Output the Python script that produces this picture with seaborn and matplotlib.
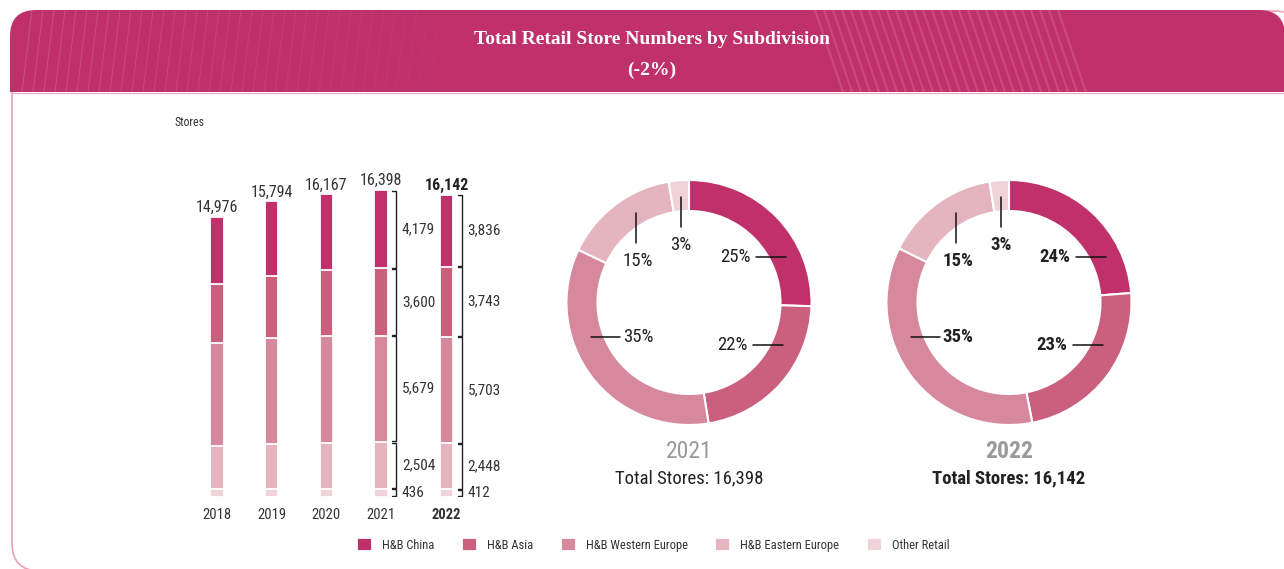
import numpy as np
import pandas as pd
import matplotlib
matplotlib.use("Agg")
import matplotlib.pyplot as plt
from matplotlib import font_manager
from matplotlib.patches import FancyBboxPatch, Rectangle
import seaborn as sns

years = ["2018", "2019", "2020", "2021", "2022"]
subdivisions = ["H&B China", "H&B Asia", "H&B Western Europe", "H&B Eastern Europe", "Other Retail"]
china = [3600, 3965, 4059, 4179, 3836]
asia = [3140, 3345, 3509, 3600, 3743]
western = [5525, 5635, 5715, 5679, 5703]
eastern = [2300, 2401, 2436, 2504, 2448]
other = [411, 448, 448, 436, 412]
totals = [14976, 15794, 16167, 16398, 16142]
pct_2021 = [25, 22, 35, 15, 3]
pct_2022 = [24, 23, 35, 15, 3]
colors = ["#C0306A", "#CB607E", "#D6899D", "#E4B4BF", "#F0D2D9"]

W, H = 1284, 569

available = {f.name for f in font_manager.fontManager.ttflist}
narrow = next((f for f in ["Liberation Sans Narrow", "DejaVu Sans Condensed", "Roboto Condensed",
                           "Open Sans Condensed", "Open Sans"] if f in available), "DejaVu Sans")
serif = "Liberation Serif" if "Liberation Serif" in available else "DejaVu Serif"

sns.set_style("white")
plt.rcParams["font.family"] = [narrow, "DejaVu Sans"]
text_col = "#333333"

fig = plt.figure(figsize=(W / 100, H / 100), dpi=100)

# background card + header band (pixel coordinates)
bg = fig.add_axes([0, 0, 1, 1])
bg.set_xlim(0, W)
bg.set_ylim(H, 0)
bg.axis("off")
card = FancyBboxPatch((12, 11), 1290, 560, boxstyle="round,pad=0,rounding_size=28",
                      facecolor="white", edgecolor="#E8A3B7", linewidth=1.2)
bg.add_patch(card)
header = FancyBboxPatch((10, 10), 1275, 160, boxstyle="round,pad=0,rounding_size=26",
                        facecolor="#C0306A", edgecolor="none")
bg.add_patch(header)
clip = Rectangle((0, 0), W, 92, transform=bg.transData)
header.set_clip_path(clip)
for k, x0 in enumerate(np.arange(22, 470, 11)):
    ln, = bg.plot([x0, x0 + 10], [92, 10], color="white", lw=0.7, alpha=0.16 * (1 - k / 45))
    ln.set_clip_path(clip)
for k, x0 in enumerate(np.arange(815, 1060, 9)):
    ln, = bg.plot([x0, x0 + 28], [10, 92], color="white", lw=1.6, alpha=0.13)
    ln.set_clip_path(clip)
bg.plot([12, W], [92.5, 92.5], color="#EBB3C3", lw=1)

fig.text(652 / W, 1 - 40 / H, "Total Retail Store Numbers by Subdivision", ha="center", va="center",
         color="white", fontsize=14, fontweight="bold", family=serif)
fig.text(652 / W, 1 - 70 / H, "(-2%)", ha="center", va="center",
         color="white", fontsize=14, fontweight="bold", family=serif)
fig.text(175 / W, 1 - 123 / H, "Stores", ha="left", va="center", fontsize=8.5, color=text_col)

# stacked bars: draw cumulative tops, largest first
stack = np.array([china, asia, western, eastern, other])
cum = stack[::-1].cumsum(axis=0)[::-1]
idx = np.arange(len(years))
xpos = idx + np.where(idx == len(years) - 1, 0.2, 0.0)
rows = []
for i, sub in enumerate(subdivisions):
    for j in range(len(years)):
        rows.append({"pos": xpos[j], "subdivision": sub, "top": cum[i, j]})
df = pd.DataFrame(rows)

unit = 54.67
ax = fig.add_axes([(217 - 0.8 * unit) / W, 72 / H, 5.7 * unit / W, 337 / H])
sns.barplot(data=df, x="pos", y="top", hue="subdivision", hue_order=subdivisions, palette=colors,
            dodge=False, native_scale=True, width=0.24, edgecolor="white", linewidth=1.3,
            saturation=1, errorbar=None, ax=ax)
handles, labels = ax.get_legend_handles_labels()
ax.get_legend().remove()
ax.set_xlim(-0.8, 4.9)
ax.set_ylim(0, 18000)
ax.patch.set_alpha(0)
sns.despine(ax=ax, left=True, bottom=True)
ax.set_yticks([])
ax.set_xlabel("")
ax.set_ylabel("")
ax.set_xticks(xpos, years)
ax.tick_params(axis="x", length=0, labelsize=10.5, labelcolor=text_col, pad=8)
ax.get_xticklabels()[-1].set_fontweight("bold")

for j in range(len(years)):
    bold = j == len(years) - 1
    ax.text(xpos[j], totals[j] + 100, f"{totals[j]:,}", ha="center", va="bottom", fontsize=11.5,
            color="#222" if bold else text_col, fontweight="bold" if bold else "normal")

# brackets for the last two years
for j in (3, 4):
    xb = xpos[j] + 0.28
    base = 0
    for v in stack[::-1, j]:
        y0, y1 = base + 35, base + v - 35
        ax.plot([xb - 0.07, xb, xb, xb - 0.07], [y0, y0, y1, y1], color="#222", lw=1.0)
        ax.text(xb + 0.1, (y0 + y1) / 2, f"{v:,}", ha="left", va="center", fontsize=11, color=text_col)
        base += v

fig.legend(handles, labels, loc="center", bbox_to_anchor=(653 / W, 1 - 545 / H), ncol=5,
           frameon=False, fontsize=9, handlelength=1.2, handleheight=1.2, handletextpad=0.8,
           columnspacing=2.2, labelcolor=text_col)

# donuts
label_layout = [
    (46, 45.5, 67, 45.5, 97, 45.5),
    (43, -42.5, 64, -42.5, 94, -42.5),
    (-51, -34, -98, -34, -69, -34),
    (-51, 41.5, -52.7, 59.8, -52.7, 89.8),
    (-8, 57.5, -7.7, 75.5, -7.7, 105.5),
]


def draw_donut(values, pcts, year, total, cx, bold):
    cy = 302.5
    dax = fig.add_axes([(cx - 150) / W, (H - cy - 150) / H, 300 / W, 300 / H])
    dax.pie(values, colors=colors, radius=122.5, startangle=90, counterclock=False,
            wedgeprops=dict(width=31, edgecolor="white", linewidth=1.5))
    dax.set_xlim(-150, 150)
    dax.set_ylim(-150, 150)
    dax.set_aspect("equal")
    dax.axis("off")
    weight = "bold" if bold else "normal"
    for pct, (tx, ty, lx0, ly0, lx1, ly1) in zip(pcts, label_layout):
        dax.plot([lx0, lx1], [ly0, ly1], color="#111", lw=1.1)
        dax.text(tx, ty, f"{pct}%", ha="center", va="center", fontsize=13.5, fontweight=weight, color="#222")
    dax.text(0, -149, year, ha="center", va="center", fontsize=17, color="#9A9A9A", fontweight=weight)
    dax.text(0, -176, f"Total Stores: {total:,}", ha="center", va="center", fontsize=13.5,
             color="#222", fontweight=weight)


draw_donut(stack[:, 3], pct_2021, "2021", totals[3], 689, False)
draw_donut(stack[:, 4], pct_2022, "2022", totals[4], 1009, True)

fig.savefig("out.png", dpi=100)
